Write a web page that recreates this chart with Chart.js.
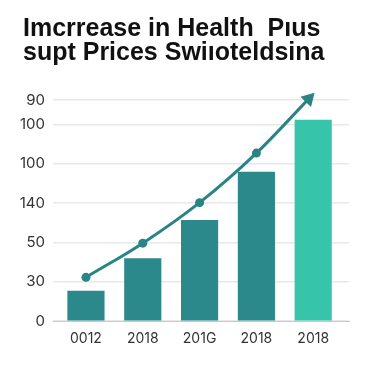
<!DOCTYPE html>
<html>
<head>
<meta charset="utf-8">
<script src="https://cdn.jsdelivr.net/npm/chart.js@4/dist/chart.umd.min.js"></script>
<style>
  html, body { margin: 0; padding: 0; background: #fff; }
  #wrap { position: relative; width: 375px; height: 366px; }
  #title {
    position: absolute; left: 23px; top: 15px;
    font-family: "Liberation Sans", Arial, sans-serif;
    font-weight: bold; font-size: 25px; line-height: 24px;
    color: #111; white-space: pre;
  }
  canvas { position: absolute; left: 0; top: 0; }
</style>
</head>
<body>
<div id="wrap">
  <canvas id="chart" width="375" height="366"></canvas>
  <div id="title">Imcrrease in Health  Pıus
supt Prices Swiıoteldsina</div>
</div>
<script>
// --- data ---
const xLabels = ['0012', '2018', '201G', '2018', '2018'];
const xPositions = [0, 1, 2, 3, 4];

// y axis: odd labels, uneven top gap
const yTickLabels = ['0', '30', '50', '140', '100', '100', '90'];
const yTickPositions = [0, 1, 2, 3, 4, 5, 5.62];

const barValues = [0.76, 1.59, 2.56, 3.79, 5.11];
const barColors = ['#2b898b', '#2b898b', '#2b898b', '#2b898b', '#36c4aa'];

// trend line, last point is the arrow head
const lineX = [0, 1, 2, 3, 3.92];
const lineY = [1.11, 1.98, 3.01, 4.27, 5.65];

const TEAL_LINE = '#2a8385';

const ctx = document.getElementById('chart').getContext('2d');
new Chart(ctx, {
    data: {
        datasets: [
            {
                type: 'line',
                order: 0,
                data: lineX.map((x, i) => ({ x: x, y: lineY[i] })),
                borderColor: TEAL_LINE,
                backgroundColor: TEAL_LINE,
                borderWidth: 3,
                tension: 0.35,
                pointStyle: ['circle', 'circle', 'circle', 'circle', 'triangle'],
                pointRadius: [4.5, 4.5, 4.5, 4.5, 8.5],
                pointRotation: [0, 0, 0, 0, 44],
                pointBorderWidth: 0,
                clip: false
            },
            {
                type: 'bar',
                order: 1,
                data: xPositions.map((x, i) => ({ x: x, y: barValues[i] })),
                backgroundColor: barColors,
                barThickness: 36.5
            }
        ]
    },
    options: {
        responsive: false,
        animation: false,
        layout: { padding: { left: 0, right: 26, top: 91, bottom: 0 } },
        plugins: {
            legend: { display: false },
            tooltip: { enabled: false },
            title: { display: false }
        },
        scales: {
            x: {
                type: 'linear',
                offset: false,
                min: -0.58,
                max: 4.63,
                grid: { display: false },
                border: { display: true, color: '#c9c9c9', width: 1 },
                afterBuildTicks: scale => {
                    scale.ticks = xPositions.map(v => ({ value: v }));
                },
                afterFit: scale => { scale.height = 45; },
                ticks: {
                    padding: 1,
                    color: '#333',
                    font: { family: 'Inter, "Noto Sans", sans-serif', size: 14 },
                    callback: (value, index) => xLabels[index]
                }
            },
            y: {
                min: 0,
                max: 5.85,
                grid: { color: '#e8e8e8', drawTicks: false, lineWidth: 1.5 },
                border: { display: false },
                afterBuildTicks: scale => {
                    scale.ticks = yTickPositions.map(v => ({ value: v }));
                },
                afterFit: scale => { scale.width = 53; },
                ticks: {
                    padding: 8,
                    color: '#333',
                    font: { family: 'Inter, "Noto Sans", sans-serif', size: 15 },
                    callback: (value, index) => yTickLabels[index]
                }
            }
        }
    }
});
</script>
</body>
</html>
